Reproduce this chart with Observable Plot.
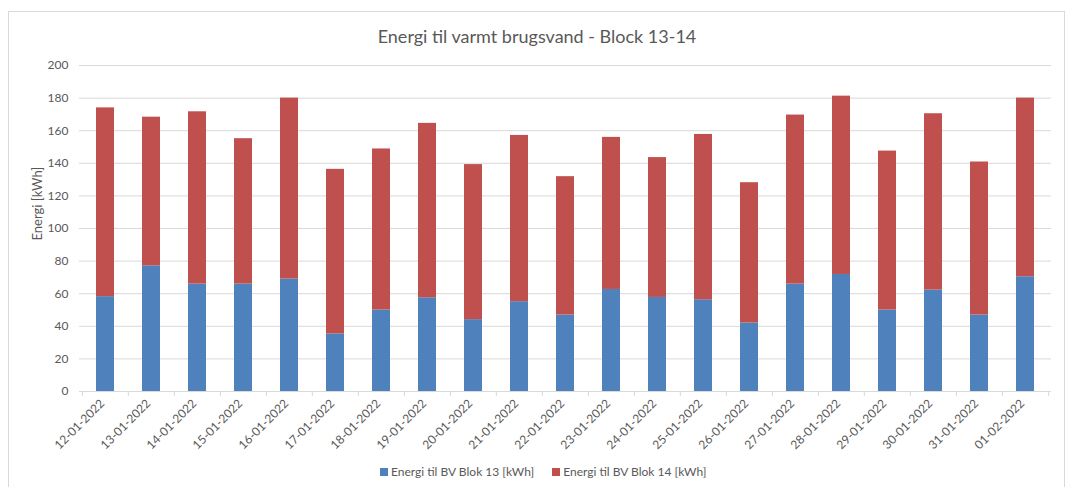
<!DOCTYPE html>
<html><head><meta charset="utf-8">
<script src="https://cdn.jsdelivr.net/npm/d3@7"></script>
<script src="https://cdn.jsdelivr.net/npm/@observablehq/plot@0.6"></script>
<style>
body{margin:0;background:#fff;font-family:Lato,"Open Sans",sans-serif;}
#wrap{position:relative;width:1070px;height:487px;overflow:hidden;background:#fff}
#frame{position:absolute;left:8px;top:11px;width:1057px;height:500px;border:1px solid #d9d9d9;box-sizing:border-box}
#title{position:absolute;left:0;width:1074px;top:26px;text-align:center;font-size:18px;color:#595959;line-height:20px}
#chart{position:absolute;left:0;top:0}
#legend{position:absolute;left:380px;top:464px;display:flex;gap:18px;font-size:12px;color:#595959;line-height:16px}
#legend span.sw{display:inline-block;width:8px;height:8px;margin-right:3px;vertical-align:0px}
</style></head>
<body>
<div id="wrap">
  <div id="frame"></div>
  <div id="title">Energi til varmt brugsvand - Block 13-14</div>
  <div id="chart"></div>
  <div id="legend"></div>
</div>
<script>
const dates = ["12-01-2022","13-01-2022","14-01-2022","15-01-2022","16-01-2022","17-01-2022","18-01-2022","19-01-2022","20-01-2022","21-01-2022","22-01-2022","23-01-2022","24-01-2022","25-01-2022","26-01-2022","27-01-2022","28-01-2022","29-01-2022","30-01-2022","31-01-2022","01-02-2022"];
const blok13 = [58.2,77.1,65.9,65.9,69.0,35.3,50.0,57.5,44.1,55.1,46.9,62.6,57.7,56.3,42.0,65.9,71.8,50.0,62.2,46.9,70.4];
const blok14 = [115.8,91.2,105.7,89.2,111.0,101.0,98.8,107.0,95.1,102.0,84.9,93.3,85.8,101.4,86.1,103.7,109.4,97.5,108.2,93.9,109.6];
const seriesNames = ["Energi til BV Blok 13 [kWh]","Energi til BV Blok 14 [kWh]"];
const seriesColors = ["#4f81bd","#c0504d"];
const yTicks = [0,20,40,60,80,100,120,140,160,180,200];
const yLabel = "Energi [kWh]";

const rows = [];
dates.forEach((d,i)=>{
  rows.push({date:d, series:seriesNames[0], value:blok13[i]});
  rows.push({date:d, series:seriesNames[1], value:blok14[i]});
});

const W = 1070, H = 460, ML = 79, MR = 19, MT = 65, MB = 69;
const step = (W - ML - MR) / dates.length;
const grey = "#595959", gridC = "#d9d9d9";

const chart = Plot.plot({
  width: W, height: H,
  marginLeft: ML, marginRight: MR, marginTop: MT, marginBottom: MB,
  style: {fontFamily: "Lato, 'Open Sans', sans-serif", fontSize: "12px", color: grey, background: "transparent"},
  x: {domain: dates, paddingInner: 0.6, paddingOuter: 0.3, label: null},
  y: {domain: [0, 200], label: null},
  color: {domain: seriesNames, range: seriesColors},
  marks: [
    Plot.gridY(yTicks.filter(t => t > 0), {stroke: gridC, strokeOpacity: 1}),
    Plot.barY(rows, Plot.stackY({x: "date", y: "value", fill: "series"})),
    Plot.ruleY([0], {stroke: gridC, strokeOpacity: 1}),
    Plot.ruleX(dates, {x: d => d, dx: -step/2, y1: 0, y2: 0, insetBottom: -5, stroke: gridC}),
    Plot.ruleX([dates[dates.length-1]], {x: d => d, dx: step/2, y1: 0, y2: 0, insetBottom: -5, stroke: gridC}),
    Plot.axisY({ticks: yTicks, tickSize: 0, tickPadding: 11, fill: grey, fontSize: 12, label: null}),
    Plot.text([yLabel], {text: d => d, frameAnchor: "left", rotate: -90, dx: -42, dy: 12, fontSize: 13, fill: grey}),
    Plot.axisX({tickSize: 0, tickPadding: 10, tickRotate: -45, fill: grey, fontSize: 12, label: null, dx: -3})
  ]
});
document.getElementById("chart").appendChild(chart);

const legend = document.getElementById("legend");
seriesNames.forEach((n,i)=>{
  const it = document.createElement("div");
  it.innerHTML = `<span class="sw" style="background:${seriesColors[i]}"></span>${n}`;
  legend.appendChild(it);
});
</script>
</body></html>
